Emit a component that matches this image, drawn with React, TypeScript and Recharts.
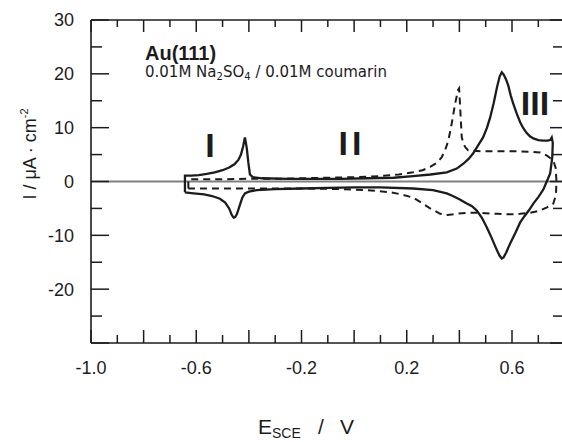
import React from "react";
import { LineChart, Line, XAxis, YAxis, ReferenceLine } from "recharts";

// Potential (V vs SCE) and current density (µA/cm²), traced once around each loop
const solidE = [
  -0.643, -0.643, -0.62, -0.59, -0.56, -0.53, -0.5, -0.475, -0.455, -0.44, -0.43, -0.422, -0.415,
  -0.408, -0.402, -0.396, -0.385, -0.35, -0.25, -0.15, -0.05, 0.05, 0.15, 0.224, 0.29, 0.352, 0.39,
  0.415, 0.435, 0.452, 0.47, 0.49, 0.505, 0.517, 0.53, 0.543, 0.553, 0.561, 0.568, 0.577, 0.586,
  0.595, 0.605, 0.618, 0.631, 0.643, 0.656, 0.668, 0.681, 0.7, 0.719, 0.735, 0.745, 0.751, 0.755,
  0.753, 0.745, 0.732, 0.719, 0.7, 0.681, 0.665, 0.648, 0.631, 0.613, 0.593, 0.578, 0.568, 0.561,
  0.553, 0.545, 0.536, 0.52, 0.504, 0.485, 0.466, 0.448, 0.428, 0.4, 0.375, 0.352, 0.3, 0.224, 0.1,
  0.0, -0.1, -0.2, -0.3, -0.37, -0.4, -0.415, -0.425, -0.435, -0.445, -0.452, -0.458, -0.465, -0.475,
  -0.49, -0.51, -0.54, -0.57, -0.61, -0.643,
];
const solidI = [
  -2.0, 1.1, 1.1, 1.2, 1.4, 1.7, 2.1, 2.6, 3.2, 4.0, 5.0, 6.5, 8.2,
  6.2, 3.5, 1.3, 0.8, 0.6, 0.5, 0.5, 0.5, 0.6, 0.7, 1.0, 1.3, 1.7, 2.4,
  3.3, 4.2, 5.2, 6.6, 8.2, 10.0, 11.9, 14.5, 17.5, 19.5, 20.3, 19.9, 19.0, 17.8,
  16.0, 14.4, 12.6, 11.0, 9.9, 9.0, 8.4, 8.0, 7.7, 7.6, 7.6, 7.7, 8.2, 7.2,
  4.5, 1.5, 0.0, -1.5, -2.9, -4.1, -5.3, -6.4, -7.6, -9.5, -11.5, -13.2, -14.1, -14.3,
  -13.8, -13.0, -12.0, -10.2, -8.5, -6.7, -5.4, -4.6, -4.1, -3.3, -2.7, -2.2, -1.6, -1.3, -1.1,
  -1.1, -1.2, -1.3, -1.4, -1.6, -1.9, -2.2, -3.0, -4.5, -6.0, -6.6, -6.7, -6.2, -5.0,
  -3.9, -3.2, -2.7, -2.4, -2.2, -2.0,
];

const dashedE = [
  -0.63, -0.63, -0.5, -0.4, -0.3, -0.2, -0.1, 0.0, 0.099, 0.17, 0.224, 0.26, 0.289, 0.315, 0.333,
  0.347, 0.358, 0.371, 0.384, 0.395, 0.399, 0.403, 0.409, 0.416, 0.422, 0.433, 0.48, 0.55, 0.62,
  0.68, 0.707, 0.733, 0.757, 0.766, 0.769, 0.767, 0.757, 0.733, 0.707, 0.67, 0.631, 0.59, 0.544,
  0.5, 0.465, 0.43, 0.39, 0.355, 0.327, 0.305, 0.289, 0.255, 0.224, 0.18, 0.137, 0.05, -0.05, -0.2,
  -0.4, -0.55, -0.63,
];
const dashedI = [
  -1.3, 0.4, 0.4, 0.5, 0.5, 0.6, 0.7, 0.8, 1.0, 1.3, 1.7, 2.1, 2.7, 3.5, 4.5,
  6.0, 7.6, 10.8, 14.5, 17.0, 17.3, 13.8, 8.2, 7.0, 6.4, 5.8, 5.6, 5.6, 5.6,
  5.5, 5.4, 4.8, 3.9, 2.5, 0.0, -2.5, -4.1, -4.8, -5.4, -5.8, -6.0, -6.1, -6.0,
  -5.9, -5.8, -5.8, -6.0, -6.2, -6.0, -5.4, -5.0, -3.9, -3.0, -2.4, -2.0, -1.6, -1.4, -1.3,
  -1.3, -1.3, -1.3,
];

const xTicks = [-1.0, -0.9, -0.8, -0.7, -0.6, -0.5, -0.4, -0.3, -0.2, -0.1, 0.0, 0.1, 0.2, 0.3, 0.4, 0.5, 0.6, 0.7];
const xTickLabels = ["-1.0", "-0.6", "-0.2", "0.2", "0.6"];
const yTicks = [-30, -25, -20, -15, -10, -5, 0, 5, 10, 15, 20, 25, 30];
const yTickLabels = ["30", "20", "10", "0", "-10", "-20"];

const W = 562;
const H = 442;
const RIGHT_EDGE = W; // plot frame runs to the right edge of the svg
const INK = "#1c1c1c";
const SANS = "'Liberation Sans', Arial, Helvetica, sans-serif";
const WIDE = "'DejaVu Sans', Verdana, sans-serif";

const toPoints = (es: number[], is: number[]) => es.map((E, k) => ({ E, I: is[k] }));
const solid = toPoints(solidE, solidI);
const dashed = toPoints(dashedE, dashedI);

const isMajorX = (v: number) => Math.round(Math.abs(v) * 10) % 2 === 0;
const isMajorY = (v: number) => v % 10 === 0;

// ticks all point into the frame; labels only on bottom and left
const BottomTick = (p: any) => {
  const { x, y, payload } = p;
  const v = payload.value as number;
  const txt = v.toFixed(1);
  return (
    <g>
      <line x1={x} x2={x} y1={y} y2={y - (isMajorX(v) ? 13 : 8)} stroke={INK} strokeWidth={1.5} />
      {xTickLabels.includes(txt) && (
        <text x={x} y={y + 31} textAnchor="middle" fontFamily={SANS} fontSize={18} fill={INK}>
          {txt}
        </text>
      )}
    </g>
  );
};

const TopTick = (p: any) => {
  const { x, y, payload } = p;
  return <line x1={x} x2={x} y1={y} y2={y + (isMajorX(payload.value) ? 12 : 7)} stroke={INK} strokeWidth={1.5} />;
};

// left ticks with labels, plus the matching inward ticks on the right frame edge
const LeftTick = (p: any) => {
  const { x, y, payload } = p;
  const v = payload.value as number;
  const txt = String(v);
  return (
    <g>
      <line x1={x} x2={x + (isMajorY(v) ? 18 : 11)} y1={y} y2={y} stroke={INK} strokeWidth={1.5} />
      <line
        x1={RIGHT_EDGE}
        x2={RIGHT_EDGE - (isMajorY(v) ? 12 : 9)}
        y1={y}
        y2={y}
        stroke={INK}
        strokeWidth={1.5}
      />
      {yTickLabels.includes(txt) && (
        <text x={x - 17} y={y} dy="0.36em" textAnchor="end" fontFamily={SANS} fontSize={18} fill={INK}>
          {txt}
        </text>
      )}
    </g>
  );
};

export default function App() {
  return (
    <div style={{ position: "relative", width: W, height: H, background: "#fff" }}>
      <style>{"body{margin:0}"}</style>
      <LineChart width={W} height={H} margin={{ top: 0, right: 0, bottom: 0, left: 0 }}>
        <XAxis
          xAxisId="b"
          dataKey="E"
          type="number"
          domain={[-1.0, 0.79]}
          allowDataOverflow
          ticks={xTicks}
          interval={0}
          height={99}
          tickSize={0}
          tickMargin={0}
          tickLine={false}
          tick={BottomTick}
          axisLine={{ stroke: INK, strokeWidth: 1.6 }}
        />
        <XAxis
          xAxisId="t"
          orientation="top"
          dataKey="E"
          type="number"
          domain={[-1.0, 0.79]}
          allowDataOverflow
          ticks={xTicks}
          interval={0}
          height={20}
          tickSize={0}
          tickMargin={0}
          tickLine={false}
          tick={TopTick}
          axisLine={{ stroke: INK, strokeWidth: 1.6 }}
        />
        <YAxis
          yAxisId="l"
          type="number"
          domain={[-30, 30]}
          allowDataOverflow
          ticks={yTicks}
          interval={0}
          width={91}
          tickSize={0}
          tickMargin={0}
          tickLine={false}
          tick={LeftTick}
          axisLine={{ stroke: INK, strokeWidth: 1.6 }}
        />
        <ReferenceLine xAxisId="b" yAxisId="l" y={0} stroke="#808080" strokeWidth={2.2} />
        <Line
          xAxisId="b"
          yAxisId="l"
          data={dashed}
          dataKey="I"
          type="linear"
          stroke={INK}
          strokeWidth={2}
          strokeDasharray="7 5"
          dot={false}
          activeDot={false}
          isAnimationActive={false}
        />
        <Line
          xAxisId="b"
          yAxisId="l"
          data={solid}
          dataKey="I"
          type="linear"
          stroke={INK}
          strokeWidth={2.3}
          dot={false}
          activeDot={false}
          isAnimationActive={false}
        />
      </LineChart>
      <svg
        width={W}
        height={H}
        style={{ position: "absolute", left: 0, top: 0, pointerEvents: "none" }}
      >
        <text x={145} y={60} fontFamily={SANS} fontWeight="bold" fontSize={20} fill={INK}>
          Au(111)
        </text>
        <text x={145} y={77} fontFamily={WIDE} fontSize={15} fill={INK}>
          0.01M Na<tspan fontSize={10} dy={3}>2</tspan>
          <tspan dy={-3}>SO</tspan>
          <tspan fontSize={10} dy={3}>4</tspan>
          <tspan dy={-3}> / 0.01M coumarin</tspan>
        </text>
        <text x={210} y={157} textAnchor="middle" fontFamily={SANS} fontWeight="bold" fontSize={34} fill={INK}>
          I
        </text>
        <text x={352} y={155} textAnchor="middle" fontFamily={SANS} fontWeight="bold" fontSize={34} letterSpacing={4} fill={INK}>
          II
        </text>
        <text x={535} y={115} textAnchor="middle" fontFamily={SANS} fontWeight="bold" fontSize={34} fill={INK}>
          III
        </text>
        <text
          transform="translate(36,154) rotate(-90)"
          textAnchor="middle"
          fontFamily={SANS}
          fontSize={18}
          fill={INK}
        >
          I / μA · cm<tspan fontSize={11} dy={-8}>-2</tspan>
        </text>
        <text x={258} y={434} fontFamily={SANS} fontSize={21} fill={INK}>
          E<tspan fontSize={14} dy={4}>SCE</tspan>
          <tspan x={318} dy={-4}>/</tspan>
          <tspan x={340}>V</tspan>
        </text>
      </svg>
    </div>
  );
}
